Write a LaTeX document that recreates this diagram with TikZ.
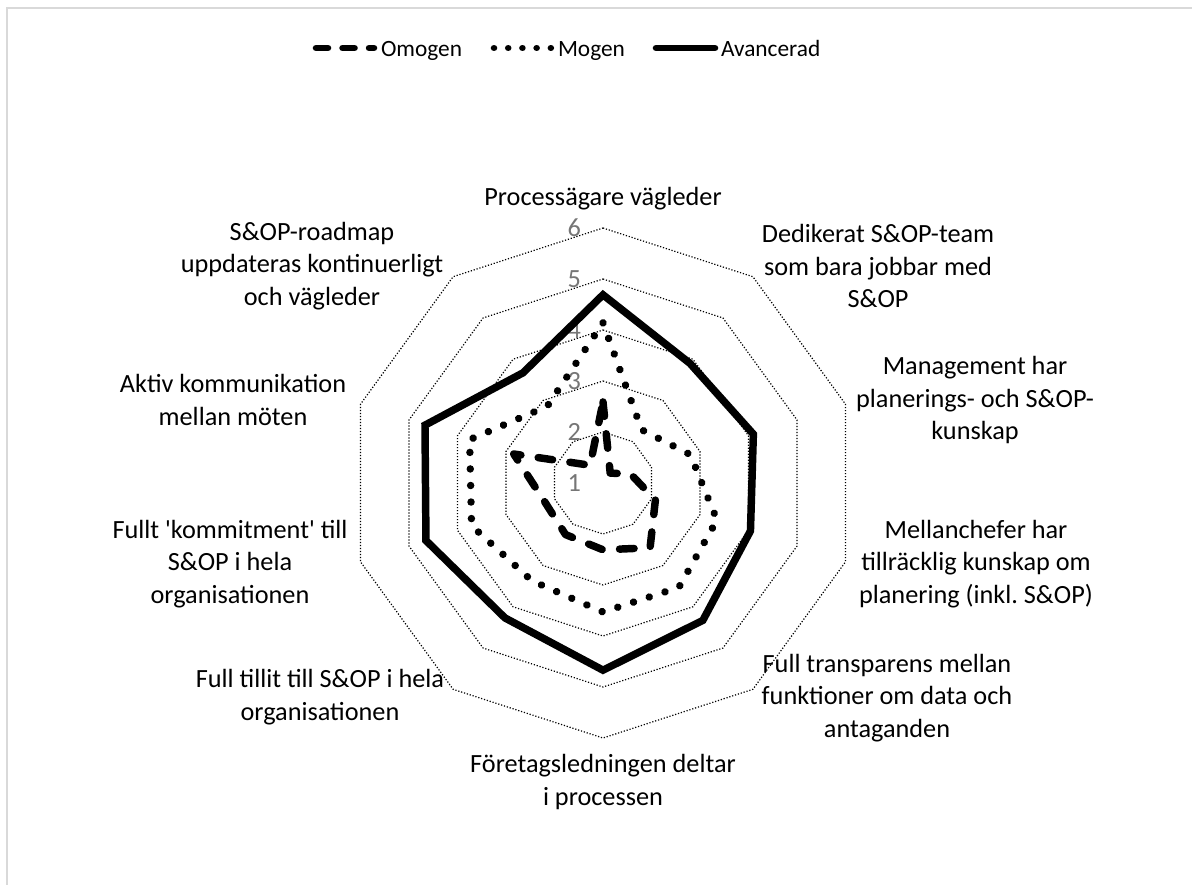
\documentclass[tikz,border=0pt]{standalone}
\usepackage{fontspec}
\setmainfont{Carlito}[Ligatures=TeXOff]
\usetikzlibrary{calc}
\definecolor{framegray}{RGB}{217,217,217}
\definecolor{tickgray}{RGB}{118,118,118}
\begin{document}
\begin{tikzpicture}[x=0.75pt,y=0.75pt,
  every node/.style={inner sep=0pt, outer sep=0pt},
  txt/.style={font=\fontsize{19.7pt}{24.4pt}\selectfont, align=center},
  legtxt/.style={font=\fontsize{17.5pt}{21pt}\selectfont, anchor=base west},
  ticklabel/.style={font=\fontsize{19.7pt}{24.4pt}\selectfont, text=tickgray, anchor=east},
  gridline/.style={line width=0.9pt, dash pattern=on 0.9pt off 1.35pt},
  seriesavancerad/.style={line width=5.6pt, line join=miter},
  seriesmogen/.style={line width=5.6pt, line cap=round, line join=round, dash pattern=on 0.01pt off 12.4pt},
  seriesomogen/.style={line width=5.6pt, line cap=round, line join=round, dash pattern=on 10.9pt off 13.1pt},
  legavancerad/.style={line width=4.9pt, line cap=round},
  legmogen/.style={line width=4.9pt, line cap=round, dash pattern=on 0.01pt off 10.65pt},
  legomogen/.style={line width=4.9pt, line cap=round, dash pattern=on 9pt off 10.9pt},
]
\useasboundingbox (0,0) rectangle (1192,-885);
% frame (top and left edges)
\draw[framegray, line width=1.3pt] (7,-885) -- (7,-8.3) -- (1192,-8.3);

% chart centre = value 1, 51 px per unit
\coordinate (O) at (603,-483);

% grid rings for the values 2 to 6
\foreach \lev in {2,...,6} {
  \draw[gridline] ($(O)+(90:{(\lev-1)*51})$)
    \foreach \k in {1,...,9} { -- ($(O)+({90-36*\k}:{(\lev-1)*51})$) } -- cycle;
}

% scale labels
\foreach \lev in {1,...,6} {
  \node[ticklabel] (tick\lev) at (581,{-483+(\lev-1)*51}) {\lev};
}

% series points
\foreach \v [count=\k from 0] in {2.59,1.24,1.57,2.08,2.57,2.31,2.25,2.20,2.84,1.43}
  \coordinate (om\k) at ($(O)+({90-36*\k}:{(\v-1)*51})$);
\foreach \v [count=\k from 0] in {4.14,2.29,2.80,3.35,3.53,3.53,3.37,3.71,3.75,2.86}
  \coordinate (mo\k) at ($(O)+({90-36*\k}:{(\v-1)*51})$);
\foreach \v [count=\k from 0] in {4.69,3.90,4.10,4.04,4.33,4.67,4.27,4.65,4.67,3.67}
  \coordinate (av\k) at ($(O)+({90-36*\k}:{(\v-1)*51})$);

\draw[seriesomogen] (om0) -- (om1) -- (om2) -- (om3) -- (om4) -- (om5) -- (om6) -- (om7) -- (om8) -- (om9) -- cycle;
\draw[seriesmogen] (mo0) -- (mo1) -- (mo2) -- (mo3) -- (mo4) -- (mo5) -- (mo6) -- (mo7) -- (mo8) -- (mo9) -- cycle;
\draw[seriesavancerad] (av0) -- (av1) -- (av2) -- (av3) -- (av4) -- (av5) -- (av6) -- (av7) -- (av8) -- (av9) -- cycle;

% category labels
\node[txt] (c0) at (603,-199) {Processägare vägleder};
\node[txt] (c1) at (878,-266) {Dedikerat S\&OP-team\\som bara jobbar med\\S\&OP};
\node[txt] (c2) at (975,-400) {Management har\\planerings- och S\&OP-\\kunskap};
\node[txt] (c3) at (976,-564) {Mellanchefer har\\tillräcklig kunskap om\\planering (inkl.\ S\&OP)};
\node[txt] (c4) at (887,-698) {Full transparens mellan\\funktioner om data och\\antaganden};
\node[txt] (c5) at (603,-782) {Företagsledningen deltar\\i processen};
\node[txt] (c6) at (320,-697) {Full tillit till S\&OP i hela\\organisationen};
\node[txt] (c7) at (230,-564) {Fullt 'kommitment' till\\S\&OP i hela\\organisationen};
\node[txt] (c8) at (233,-400) {Aktiv kommunikation\\mellan möten};
\node[txt] (c9) at (312,-266) {S\&OP-roadmap\\uppdateras kontinuerligt\\och vägleder};

% legend
\coordinate (lo1) at (316,-48); \coordinate (lo2) at (374,-48);
\coordinate (lm1) at (494,-48); \coordinate (lm2) at (551,-48);
\coordinate (la1) at (656,-48); \coordinate (la2) at (715,-48);
\draw[legomogen] (lo1) -- (lo2);
\draw[legmogen] (lm1) -- (lm2);
\draw[legavancerad] (la1) -- (la2);
\node[legtxt] (lgo) at (381,-56) {Omogen};
\node[legtxt] (lgm) at (558,-56) {Mogen};
\node[legtxt] (lga) at (721,-56) {Avancerad};
\end{tikzpicture}
\end{document}
